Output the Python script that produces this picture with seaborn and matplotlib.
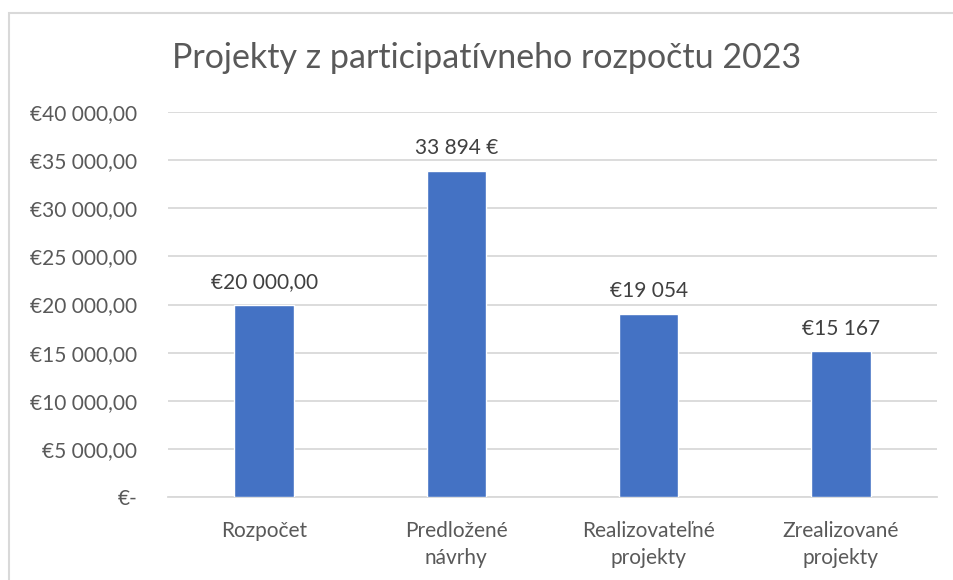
import pandas as pd
import seaborn as sns
import matplotlib.pyplot as plt
from matplotlib.patches import Rectangle

# data
categories = ['Rozpočet', 'Predložené\nnávrhy', 'Realizovateľné\nprojekty', 'Zrealizované\nprojekty']
amounts = [20000, 33894, 19054, 15167]
bar_labels = ['€20 000,00', '33 894 €', '€19 054', '€15 167']
tick_values = [0, 5000, 10000, 15000, 20000, 25000, 30000, 35000, 40000]
tick_labels = ['€-', '€5 000,00', '€10 000,00', '€15 000,00', '€20 000,00',
               '€25 000,00', '€30 000,00', '€35 000,00', '€40 000,00']

df = pd.DataFrame({'Kategória': categories, 'Suma': amounts})

sns.set_style('white')
plt.rcParams['font.family'] = ['Lato', 'DejaVu Sans']
grey = '#595959'

fig = plt.figure(figsize=(9.54, 5.8), dpi=100)
ax = fig.add_axes([168 / 954, 1 - 497 / 580, (937 - 168) / 954, (497 - 112) / 580])

sns.barplot(data=df, x='Kategória', y='Suma', color='#4472C4', saturation=1,
            width=0.31, ax=ax, zorder=3)

ax.set_ylim(0, 40000)
ax.set_xlim(-0.5, 3.5)
ax.set_yticks(tick_values)
ax.set_yticklabels(tick_labels, color=grey, fontsize=15)
ax.set_xticks(range(len(categories)))
ax.set_xticklabels(categories, color=grey, fontsize=15, linespacing=1.45)
ax.tick_params(axis='y', length=0, pad=22)
ax.tick_params(axis='x', length=0, pad=17)
ax.yaxis.grid(True, color='#d9d9d9', linewidth=1.3, zorder=0)
ax.set_xlabel('')
ax.set_ylabel('')
for side in ['top', 'right', 'left']:
    ax.spines[side].set_visible(False)
ax.spines['bottom'].set_color('#d9d9d9')
ax.spines['bottom'].set_linewidth(1.3)

for i, (val, lab) in enumerate(zip(amounts, bar_labels)):
    ax.annotate(lab, (i, val), xytext=(0, 9), textcoords='offset points',
                ha='center', va='bottom', fontsize=15, color='#404040')

fig.text(487 / 954, 1 - 58 / 580, 'Projekty z participatívneho rozpočtu 2023',
         ha='center', va='center', fontsize=24.5, color=grey)

# chart border
fig.patches.append(Rectangle((9 / 954, -0.05), 1.0, 1 - 13 / 580 + 0.05,
                             transform=fig.transFigure, fill=False,
                             edgecolor='#d9d9d9', linewidth=1.5))

fig.savefig('out.png', dpi=100)
